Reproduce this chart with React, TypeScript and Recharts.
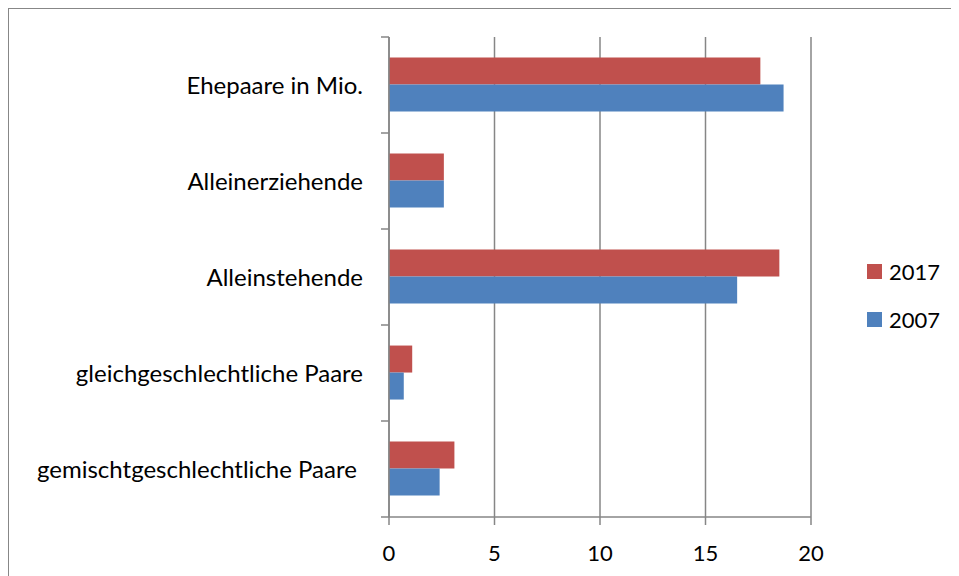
import React from 'react';
import { BarChart, Bar, XAxis, YAxis, CartesianGrid } from 'recharts';

const categories = [
    'Ehepaare in Mio.',
    'Alleinerziehende',
    'Alleinstehende',
    'gleichgeschlechtliche Paare',
    'gemischtgeschlechtliche Paare\u00a0',
];
const values2017 = [17.6, 2.6, 18.5, 1.1, 3.1];
const values2007 = [18.7, 2.6, 16.5, 0.7, 2.4];
const xTicks = [0, 5, 10, 15, 20];

const series = [
    { key: 'y2017', name: '2017', color: '#C0504D' },
    { key: 'y2007', name: '2007', color: '#4F81BD' },
];

const data = categories.map((name, i) => ({
    name,
    y2017: values2017[i],
    y2007: values2007[i],
}));

const FONT = 'Lato, "Open Sans", sans-serif';
const AXIS = '#868686';
const W = 950;
const H = 570;
const MARGIN = { top: 28, right: 148, bottom: 0, left: 0 };
const X_AXIS_H = 62;
const Y_AXIS_W = 380;
const PLOT_H = H - MARGIN.top - MARGIN.bottom - X_AXIS_H;
const BAND = PLOT_H / categories.length;
const TICK_SIZE = 8;
const TICK_MARGIN = 18;

// category label plus tick marks on the band edges, like Excel does
const CategoryTick = (props: any) => {
    const { x, y, payload, index } = props;
    const lx1 = x + TICK_MARGIN;
    const lx2 = lx1 + TICK_SIZE;
    return (
        <g>
            <line x1={lx1} x2={lx2} y1={y - BAND / 2} y2={y - BAND / 2} stroke={AXIS} strokeWidth={1.5} />
            {index === categories.length - 1 && (
                <line x1={lx1} x2={lx2} y1={y + BAND / 2} y2={y + BAND / 2} stroke={AXIS} strokeWidth={1.5} />
            )}
            <text
                x={x}
                y={y - 1}
                textAnchor="end"
                dominantBaseline="central"
                fill="#000"
                fontSize={24}
                fontFamily={FONT}
                style={{ whiteSpace: 'pre' }}
            >
                {payload.value}
            </text>
        </g>
    );
};

export default function App() {
    return (
        <div
            style={{
                position: 'relative',
                width: 960,
                height: 580,
                borderTop: '1px solid #878787',
                borderLeft: '1px solid #878787',
                fontFamily: FONT,
                background: '#fff',
            }}
        >
            <BarChart
                width={W}
                height={H}
                data={data}
                layout="vertical"
                margin={MARGIN}
                barCategoryGap="21.4%"
                barGap={0}
            >
                <CartesianGrid horizontal={false} stroke={AXIS} strokeWidth={1.5} />
                <XAxis
                    type="number"
                    domain={[0, 20]}
                    ticks={xTicks}
                    height={X_AXIS_H}
                    tickSize={TICK_SIZE}
                    tickMargin={20}
                    stroke={AXIS}
                    strokeWidth={1.5}
                    tick={{ fill: '#000', fontSize: 22, fontFamily: FONT }}
                    interval={0}
                />
                <YAxis
                    type="category"
                    dataKey="name"
                    width={Y_AXIS_W}
                    tickSize={TICK_SIZE}
                    tickMargin={TICK_MARGIN}
                    tickLine={false}
                    stroke={AXIS}
                    strokeWidth={1.5}
                    tick={<CategoryTick />}
                    interval={0}
                />
                {series.map(s => (
                    <Bar key={s.key} dataKey={s.key} name={s.name} fill={s.color} isAnimationActive={false} />
                ))}
            </BarChart>
            <div style={{ position: 'absolute', left: 858, top: 238 }}>
                {series.map(s => (
                    <div key={s.key} style={{ display: 'flex', alignItems: 'center', height: 48, fontSize: 22, color: '#000' }}>
                        <span style={{ width: 15, height: 15, background: s.color, marginRight: 7 }} />
                        {s.name}
                    </div>
                ))}
            </div>
        </div>
    );
}
